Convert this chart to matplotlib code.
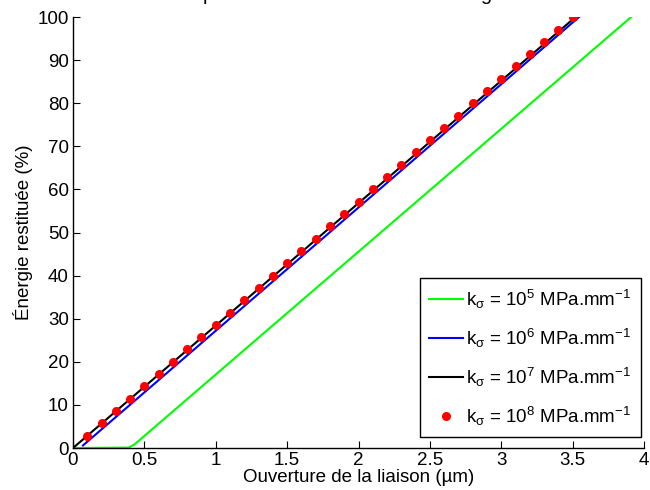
import matplotlib
matplotlib.use("Agg")
import matplotlib.pyplot as plt

plt.rcParams['font.family'] = ['Liberation Sans', 'DejaVu Sans']
plt.rcParams['mathtext.default'] = 'regular'

# k_sigma = 1e5 (green)
x_k5 = [0.0, 0.39, 0.43, 3.91]
y_k5 = [0.0, 0.1, 0.8, 100.0]
# k_sigma = 1e6 (blue)
x_k6 = [0.07, 3.545]
y_k6 = [0.6, 100.0]
# k_sigma = 1e7 (black)
x_k7 = [0.0, 3.52]
y_k7 = [0.0, 100.0]
# k_sigma = 1e8 (red dots)
x_k8 = [0.1, 0.2, 0.3, 0.4, 0.5, 0.6, 0.7, 0.8, 0.9, 1.0,
        1.1, 1.2, 1.3, 1.4, 1.5, 1.6, 1.7, 1.8, 1.9, 2.0,
        2.1, 2.2, 2.3, 2.4, 2.5, 2.6, 2.7, 2.8, 2.9, 3.0,
        3.1, 3.2, 3.3, 3.4, 3.5]
y_k8 = [2.9, 5.7, 8.6, 11.4, 14.3, 17.1, 20.0, 22.9, 25.7, 28.6,
        31.4, 34.3, 37.1, 40.0, 42.9, 45.7, 48.6, 51.4, 54.3, 57.1,
        60.0, 62.9, 65.7, 68.6, 71.4, 74.3, 77.1, 80.0, 82.9, 85.7,
        88.6, 91.4, 94.3, 97.1, 100.0]

labels = [r'k$_\sigma$ = 10$^5$ MPa.mm$^{-1}$',
          r'k$_\sigma$ = 10$^6$ MPa.mm$^{-1}$',
          r'k$_\sigma$ = 10$^7$ MPa.mm$^{-1}$',
          r'k$_\sigma$ = 10$^8$ MPa.mm$^{-1}$']

fig = plt.figure(figsize=(6.5, 4.9), dpi=100)
ax = fig.add_axes([0.1123, 0.0857, 0.8785, 0.8796])

ax.plot(x_k5, y_k5, color='#00ff00', lw=1.5, label=labels[0])
ax.plot(x_k6, y_k6, color='#0000ff', lw=1.5, label=labels[1])
ax.plot(x_k7, y_k7, color='black', lw=1.5, label=labels[2])
ax.plot(x_k8, y_k8, 'o', color='red', ms=5.5, mec='red', label=labels[3])

ax.set_xlim(0, 4)
ax.set_ylim(0, 100)
ax.set_xticks([0, 0.5, 1, 1.5, 2, 2.5, 3, 3.5, 4])
ax.set_xticklabels(['0', '0.5', '1', '1.5', '2', '2.5', '3', '3.5', '4'])
ax.set_yticks(range(0, 101, 10))
ax.spines['top'].set_visible(False)
ax.spines['right'].set_visible(False)
for s in ['left', 'bottom']:
    ax.spines[s].set_linewidth(1.0)
ax.tick_params(direction='in', length=5, width=0.8, labelsize=13.5, pad=3)

ax.set_xlabel('Ouverture de la liaison (µm)', fontsize=13.5, labelpad=0)
ax.set_ylabel('Énergie restituée (%)', fontsize=13.5, labelpad=3)

# title is clipped by the top edge, as in the original export
fig.text(0.564, 0.999, 'pour différentes valeurs de la rigidité',
         ha='center', va='baseline', fontsize=14.6)

leg = ax.legend(loc='lower right', bbox_to_anchor=(0.9947, 0.025),
                borderaxespad=0, fontsize=13.5, fancybox=False,
                edgecolor='black', framealpha=1, handlelength=1.8,
                handletextpad=0.2, labelspacing=0.85, borderpad=0.5,
                numpoints=1)
leg.get_frame().set_linewidth(1.0)

fig.savefig('out.png', dpi=100)
